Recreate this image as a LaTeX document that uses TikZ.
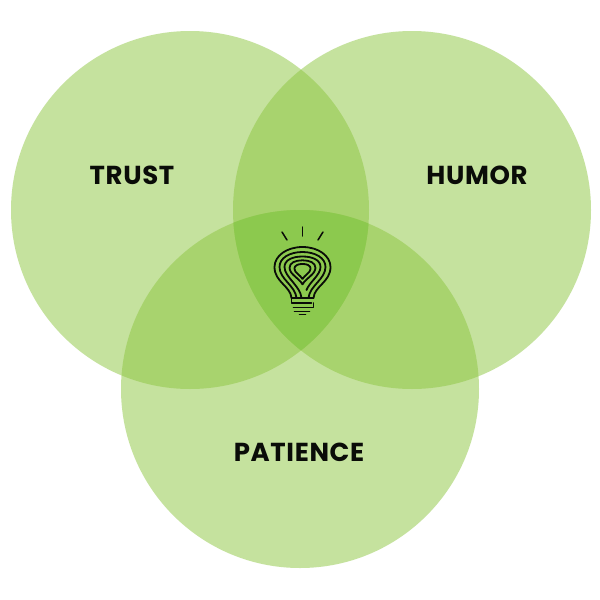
\documentclass[tikz,border=0pt]{standalone}
\usepackage{fontspec}
\setmainfont{Poppins}
\usetikzlibrary{positioning}
\definecolor{leafgreen}{HTML}{8DC63F}
\definecolor{coregreen}{HTML}{8CC94E}
\definecolor{inkblack}{HTML}{0A0C08}
\newfontfamily\labelfont[LetterSpace=2.5]{Poppins Bold}
\tikzset{
  venn/.style={circle,fill=leafgreen,fill opacity=.5,minimum size=358pt,inner sep=0pt,outer sep=0pt},
  vennlabel/.style={text=inkblack,font=\labelfont\fontsize{26}{26}\selectfont,inner sep=0pt},
  bulbline/.style={draw=inkblack,line width=1.8pt,line cap=round,line join=round}
}
\begin{document}
\begin{tikzpicture}[x=1pt,y=-1pt]
\useasboundingbox (0,0) rectangle (600,600);
\fill[white] (0,0) rectangle (600,600);
% circles
\node[venn] (trust) at (190,210) {};
\node[venn] (humor) at (412,210) {};
\node[venn] (patience) at (300,389) {};
% centre overlap
\begin{scope}
\clip (190,210) circle (179);
\clip (412,210) circle (179);
\fill[coregreen] (300,389) circle (179);
\end{scope}
% labels
\node[vennlabel] (trustlabel) at (132,175) {TRUST};
\node[vennlabel] (humorlabel) at (477,175) {HUMOR};
\node[vennlabel] (patiencelabel) at (299,452) {PATIENCE};
% rays
\draw[bulbline,line width=1.5pt] (282,232) -- (287,240);
\draw[bulbline,line width=1.5pt] (302.5,227) -- (302.5,236);
\draw[bulbline,line width=1.5pt] (323,232) -- (318,240);
% bulb rings
\begin{scope}[shift={(302.5,270)}]
\draw[bulbline] (-11,28) .. controls (-12,16) and (-28,12) .. (-28,-3)
  .. controls (-28,-14) and (-16,-23) .. (0,-23)
  .. controls (16,-23) and (28,-14) .. (28,-3)
  .. controls (28,12) and (12,16) .. (11,28);
\draw[bulbline] (-6,28) .. controls (-7,16) and (-23,9) .. (-23,-3)
  .. controls (-23,-12) and (-13,-18) .. (0,-18)
  .. controls (13,-18) and (23,-12) .. (23,-3)
  .. controls (23,9) and (7,16) .. (6,28);
\draw[bulbline] (-1,28) .. controls (-2,16) and (-18,7) .. (-18,-3)
  .. controls (-18,-10) and (-10,-13.5) .. (0,-13.5)
  .. controls (10,-13.5) and (18,-10) .. (18,-3)
  .. controls (18,5) and (7,12) .. (4,20);
\foreach \s in {.72,.45}{
  \draw[bulbline,scale=\s] (0,20) .. controls (-4,12) and (-18,6) .. (-18,-3)
    .. controls (-18,-10) and (-10,-13.5) .. (0,-13.5)
    .. controls (10,-13.5) and (18,-10) .. (18,-3)
    .. controls (18,6) and (4,12) .. (0,20);
}
\draw[bulbline] (-11,28) -- (11,28);
\draw[bulbline] (-11,28) -- (-11,33) -- (9,33);
\draw[bulbline] (-9,37.5) -- (11,37.5) -- (11,33);
\draw[bulbline] (-8,41.5) -- (7,41.5);
\draw[bulbline] (-3,44.5) -- (3,44.5);
\end{scope}
\end{tikzpicture}
\end{document}
